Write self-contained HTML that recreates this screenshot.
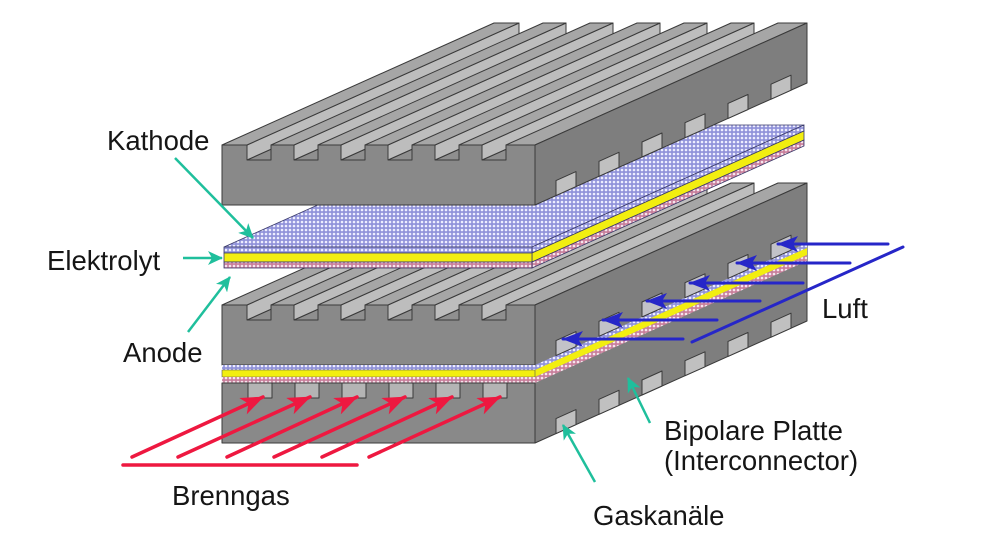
<!DOCTYPE html>
<html><head><meta charset="utf-8"><style>
html,body{margin:0;padding:0;background:#fff;}
svg{display:block;}
text{font-family:"Liberation Sans",Arial,sans-serif;font-size:27.5px;fill:#151515;}
</style></head><body>
<svg width="1004" height="547" viewBox="0 0 1004 547" xmlns="http://www.w3.org/2000/svg">
<defs>
<pattern id="dots" width="4" height="4" patternUnits="userSpaceOnUse">
<rect width="4" height="4" fill="#9193da"/><circle cx="2" cy="2" r="1.3" fill="#eeeeff"/></pattern>
<pattern id="pink" width="4" height="4" patternUnits="userSpaceOnUse">
<rect width="4" height="4" fill="#c9809c"/><circle cx="2" cy="2" r="1.3" fill="#f6e6ee"/></pattern>
<marker id="mt" markerUnits="userSpaceOnUse" markerWidth="16" markerHeight="14" refX="14" refY="7" orient="auto"><path d="M0,0 L15,7 L0,14 L4,7 z" fill="#1fbf9c"/></marker>
<marker id="mr" markerUnits="userSpaceOnUse" markerWidth="24" markerHeight="18" refX="22" refY="9" orient="auto"><path d="M0,0 L23,9 L0,18 L6,9 z" fill="#ee1840"/></marker>
<marker id="mb" markerUnits="userSpaceOnUse" markerWidth="22" markerHeight="16" refX="20" refY="8" orient="auto"><path d="M0,0 L21,8 L0,16 L5,8 z" fill="#2626c8"/></marker>
</defs>

<g stroke="#3a3a3a" stroke-width="1" stroke-linejoin="round">
<g fill="#8f8f8f">
<polygon points="247,320 271,320 543,198 519,198"/>
<polygon points="294,320 318,320 590,198 566,198"/>
<polygon points="341,320 365,320 637,198 613,198"/>
<polygon points="388,320 412,320 684,198 660,198"/>
<polygon points="435,320 459,320 731,198 707,198"/>
<polygon points="482,320 506,320 778,198 754,198"/>
</g>
<g fill="#bdbdbd">
<polygon points="247,305 247,320 519,198 519,183"/>
<polygon points="294,305 294,320 566,198 566,183"/>
<polygon points="341,305 341,320 613,198 613,183"/>
<polygon points="388,305 388,320 660,198 660,183"/>
<polygon points="435,305 435,320 707,198 707,183"/>
<polygon points="482,305 482,320 754,198 754,183"/>
</g>
<g fill="#a6a6a6">
<polygon points="222,305 247,305 519,183 494,183"/>
<polygon points="271,305 294,305 566,183 543,183"/>
<polygon points="318,305 341,305 613,183 590,183"/>
<polygon points="365,305 388,305 660,183 637,183"/>
<polygon points="412,305 435,305 707,183 684,183"/>
<polygon points="459,305 482,305 754,183 731,183"/>
<polygon points="506,305 535,305 807,183 778,183"/>
</g>
<polygon points="535,305 807,183 807,321 535,443" fill="#7e7e7e"/>
<polygon points="535,365 807,243 807,248 535,370" fill="url(#dots)" stroke="none"/>
<polygon points="535,370 807,248 807,255 535,377" fill="#f2ee10" stroke="none"/>
<polygon points="535,377 807,255 807,261 535,383" fill="url(#pink)" stroke="none"/>
<g fill="#c2c2c8">
<polygon points="556,355.6 556,340.6 576,331.6 576,346.6"/>
<polygon points="599,336.3 599,321.3 619,312.3 619,327.3"/>
<polygon points="642,317 642,302 662,293 662,308"/>
<polygon points="685,297.7 685,282.7 705,273.8 705,288.8"/>
<polygon points="728,278.4 728,263.4 748,254.5 748,269.5"/>
<polygon points="771,259.2 771,244.2 791,235.2 791,250.2"/>
</g>
<g fill="#c0c0c0">
<polygon points="556,433.6 556,418.6 576,409.6 576,424.6"/>
<polygon points="599,414.3 599,399.3 619,390.3 619,405.3"/>
<polygon points="642,395 642,380 662,371 662,386"/>
<polygon points="685,375.7 685,360.7 705,351.8 705,366.8"/>
<polygon points="728,356.4 728,341.4 748,332.5 748,347.5"/>
<polygon points="771,337.2 771,322.2 791,313.2 791,328.2"/>
</g>
<path d="M222,365 L222,305 L247,305 L247,320 L271,320 L271,305 L294,305 L294,320 L318,320 L318,305 L341,305 L341,320 L365,320 L365,305 L388,305 L388,320 L412,320 L412,305 L435,305 L435,320 L459,320 L459,305 L482,305 L482,320 L506,320 L506,305 L535,305 L535,365 Z" fill="#898989"/>
<rect x="222" y="365" width="313" height="5" fill="url(#dots)" stroke="none"/>
<rect x="222" y="370" width="313" height="7" fill="#f2ee10" stroke="#555" stroke-width="0.6"/>
<rect x="222" y="377" width="313" height="6" fill="url(#pink)" stroke="none"/>
<rect x="222" y="383" width="313" height="60" fill="#898989"/>
<g fill="#b4b4b4">
<rect x="248" y="383" width="24" height="15"/>
<rect x="295" y="383" width="24" height="15"/>
<rect x="342" y="383" width="24" height="15"/>
<rect x="389" y="383" width="24" height="15"/>
<rect x="436" y="383" width="24" height="15"/>
<rect x="483" y="383" width="24" height="15"/>
</g>
</g>

<g stroke="#3a3a6a" stroke-width="0.8">
<polygon points="224,247 532,247 804,125 496,125" fill="url(#dots)"/>
<polygon points="532,247 804,125 804,131 532,253" fill="url(#dots)"/>
<polygon points="532,253 804,131 804,140 532,262" fill="#f2ee10"/>
<polygon points="532,262 804,140 804,146 532,268" fill="url(#pink)"/>
<rect x="224" y="247" width="308" height="6" fill="url(#dots)"/>
<rect x="224" y="253" width="308" height="9" fill="#f2ee10"/>
<rect x="224" y="262" width="308" height="6" fill="url(#pink)"/>
</g>

<g stroke="#3a3a3a" stroke-width="1" stroke-linejoin="round">
<g fill="#8f8f8f">
<polygon points="247,160 271,160 543,38 519,38"/>
<polygon points="294,160 318,160 590,38 566,38"/>
<polygon points="341,160 365,160 637,38 613,38"/>
<polygon points="388,160 412,160 684,38 660,38"/>
<polygon points="435,160 459,160 731,38 707,38"/>
<polygon points="482,160 506,160 778,38 754,38"/>
</g>
<g fill="#bdbdbd">
<polygon points="247,145 247,160 519,38 519,23"/>
<polygon points="294,145 294,160 566,38 566,23"/>
<polygon points="341,145 341,160 613,38 613,23"/>
<polygon points="388,145 388,160 660,38 660,23"/>
<polygon points="435,145 435,160 707,38 707,23"/>
<polygon points="482,145 482,160 754,38 754,23"/>
</g>
<g fill="#a6a6a6">
<polygon points="222,145 247,145 519,23 494,23"/>
<polygon points="271,145 294,145 566,23 543,23"/>
<polygon points="318,145 341,145 613,23 590,23"/>
<polygon points="365,145 388,145 660,23 637,23"/>
<polygon points="412,145 435,145 707,23 684,23"/>
<polygon points="459,145 482,145 754,23 731,23"/>
<polygon points="506,145 535,145 807,23 778,23"/>
</g>
<polygon points="535,145 807,23 807,83 535,205" fill="#7e7e7e"/>
<g fill="#c0c0c0">
<polygon points="556,195.6 556,180.6 576,171.6 576,186.6"/>
<polygon points="599,176.3 599,161.3 619,152.3 619,167.3"/>
<polygon points="642,157 642,142 662,133 662,148"/>
<polygon points="685,137.7 685,122.7 705,113.8 705,128.8"/>
<polygon points="728,118.4 728,103.4 748,94.5 748,109.5"/>
<polygon points="771,99.2 771,84.2 791,75.2 791,90.2"/>
</g>
<path d="M222,205 L222,145 L247,145 L247,160 L271,160 L271,145 L294,145 L294,160 L318,160 L318,145 L341,145 L341,160 L365,160 L365,145 L388,145 L388,160 L412,160 L412,145 L435,145 L435,160 L459,160 L459,145 L482,145 L482,160 L506,160 L506,145 L535,145 L535,205 Z" fill="#898989"/>
</g>

<g stroke="#ee1840" stroke-width="3.5" stroke-linecap="round">
<line x1="123" y1="465" x2="357" y2="465"/>
<line x1="132" y1="457" x2="263" y2="397" marker-end="url(#mr)"/>
<line x1="178" y1="457" x2="310" y2="397" marker-end="url(#mr)"/>
<line x1="227" y1="457" x2="357" y2="397" marker-end="url(#mr)"/>
<line x1="274" y1="457" x2="405" y2="397" marker-end="url(#mr)"/>
<line x1="322" y1="457" x2="452" y2="397" marker-end="url(#mr)"/>
<line x1="369" y1="457" x2="500" y2="397" marker-end="url(#mr)"/>
</g>

<g stroke="#2626c8" stroke-width="3" stroke-linecap="round">
<line x1="903" y1="247" x2="692" y2="342"/>
<line x1="888" y1="244" x2="778" y2="244" marker-end="url(#mb)"/>
<line x1="850" y1="263" x2="737" y2="263" marker-end="url(#mb)"/>
<line x1="803" y1="283" x2="690" y2="283" marker-end="url(#mb)"/>
<line x1="760" y1="301" x2="647" y2="301" marker-end="url(#mb)"/>
<line x1="717" y1="320" x2="603" y2="320" marker-end="url(#mb)"/>
<line x1="683" y1="339" x2="563" y2="339" marker-end="url(#mb)"/>
</g>

<g stroke="#1fbf9c" stroke-width="2.5">
<line x1="175" y1="158" x2="253" y2="238" marker-end="url(#mt)"/>
<line x1="183" y1="258" x2="222" y2="258" marker-end="url(#mt)"/>
<line x1="188" y1="332" x2="230" y2="277" marker-end="url(#mt)"/>
<line x1="650" y1="423" x2="628" y2="378" marker-end="url(#mt)"/>
<line x1="595" y1="482" x2="563" y2="425" marker-end="url(#mt)"/>
</g>

<text x="107" y="150">Kathode</text>
<text x="47" y="270">Elektrolyt</text>
<text x="123" y="362">Anode</text>
<text x="822" y="318">Luft</text>
<text x="664" y="440">Bipolare Platte</text>
<text x="664" y="470">(Interconnector)</text>
<text x="172" y="505">Brenngas</text>
<text x="593" y="525">Gaskanäle</text>
</svg>
</body></html>
